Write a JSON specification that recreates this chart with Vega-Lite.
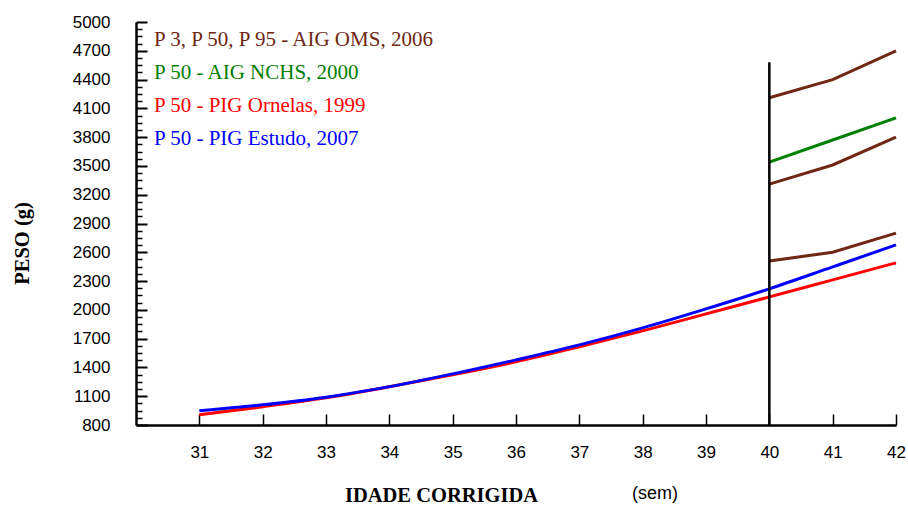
{
  "$schema": "https://vega.github.io/schema/vega-lite/v6.json",
  "width": 760,
  "height": 403,
  "autosize": {"type": "none"},
  "padding": {"left": 136, "top": 22, "right": 12, "bottom": 82},
  "background": "white",
  "config": {"view": {"stroke": null}},
  "title": {"text": "(sem)", "orient": "bottom", "anchor": "start", "frame": "group", "font": "Liberation Sans", "fontSize": 18, "fontWeight": "normal", "color": "black", "dx": 496, "dy": -21, "offset": 0},
  "data": {"values": [
    {"semana": 40, "peso": 4210, "fonte": "P 3, P 50, P 95 - AIG OMS, 2006", "serie": "P95 OMS"},
    {"semana": 41, "peso": 4400, "fonte": "P 3, P 50, P 95 - AIG OMS, 2006", "serie": "P95 OMS"},
    {"semana": 42, "peso": 4700, "fonte": "P 3, P 50, P 95 - AIG OMS, 2006", "serie": "P95 OMS"},
    {"semana": 40, "peso": 3310, "fonte": "P 3, P 50, P 95 - AIG OMS, 2006", "serie": "P50 OMS"},
    {"semana": 41, "peso": 3510, "fonte": "P 3, P 50, P 95 - AIG OMS, 2006", "serie": "P50 OMS"},
    {"semana": 42, "peso": 3800, "fonte": "P 3, P 50, P 95 - AIG OMS, 2006", "serie": "P50 OMS"},
    {"semana": 40, "peso": 2510, "fonte": "P 3, P 50, P 95 - AIG OMS, 2006", "serie": "P3 OMS"},
    {"semana": 41, "peso": 2600, "fonte": "P 3, P 50, P 95 - AIG OMS, 2006", "serie": "P3 OMS"},
    {"semana": 42, "peso": 2800, "fonte": "P 3, P 50, P 95 - AIG OMS, 2006", "serie": "P3 OMS"},
    {"semana": 40, "peso": 3540, "fonte": "P 50 - AIG NCHS, 2000", "serie": "NCHS"},
    {"semana": 41, "peso": 3770, "fonte": "P 50 - AIG NCHS, 2000", "serie": "NCHS"},
    {"semana": 42, "peso": 4000, "fonte": "P 50 - AIG NCHS, 2000", "serie": "NCHS"},
    {"semana": 31, "peso": 906, "fonte": "P 50 - PIG Ornelas, 1999", "serie": "Ornelas"},
    {"semana": 32, "peso": 990, "fonte": "P 50 - PIG Ornelas, 1999", "serie": "Ornelas"},
    {"semana": 33, "peso": 1083, "fonte": "P 50 - PIG Ornelas, 1999", "serie": "Ornelas"},
    {"semana": 34, "peso": 1198, "fonte": "P 50 - PIG Ornelas, 1999", "serie": "Ornelas"},
    {"semana": 35, "peso": 1323, "fonte": "P 50 - PIG Ornelas, 1999", "serie": "Ornelas"},
    {"semana": 36, "peso": 1458, "fonte": "P 50 - PIG Ornelas, 1999", "serie": "Ornelas"},
    {"semana": 37, "peso": 1615, "fonte": "P 50 - PIG Ornelas, 1999", "serie": "Ornelas"},
    {"semana": 38, "peso": 1781, "fonte": "P 50 - PIG Ornelas, 1999", "serie": "Ornelas"},
    {"semana": 39, "peso": 1958, "fonte": "P 50 - PIG Ornelas, 1999", "serie": "Ornelas"},
    {"semana": 40, "peso": 2135, "fonte": "P 50 - PIG Ornelas, 1999", "serie": "Ornelas"},
    {"semana": 41, "peso": 2313, "fonte": "P 50 - PIG Ornelas, 1999", "serie": "Ornelas"},
    {"semana": 42, "peso": 2490, "fonte": "P 50 - PIG Ornelas, 1999", "serie": "Ornelas"},
    {"semana": 31, "peso": 948, "fonte": "P 50 - PIG Estudo, 2007", "serie": "Estudo"},
    {"semana": 32, "peso": 1010, "fonte": "P 50 - PIG Estudo, 2007", "serie": "Estudo"},
    {"semana": 33, "peso": 1090, "fonte": "P 50 - PIG Estudo, 2007", "serie": "Estudo"},
    {"semana": 34, "peso": 1200, "fonte": "P 50 - PIG Estudo, 2007", "serie": "Estudo"},
    {"semana": 35, "peso": 1333, "fonte": "P 50 - PIG Estudo, 2007", "serie": "Estudo"},
    {"semana": 36, "peso": 1479, "fonte": "P 50 - PIG Estudo, 2007", "serie": "Estudo"},
    {"semana": 37, "peso": 1635, "fonte": "P 50 - PIG Estudo, 2007", "serie": "Estudo"},
    {"semana": 38, "peso": 1812, "fonte": "P 50 - PIG Estudo, 2007", "serie": "Estudo"},
    {"semana": 39, "peso": 2010, "fonte": "P 50 - PIG Estudo, 2007", "serie": "Estudo"},
    {"semana": 40, "peso": 2219, "fonte": "P 50 - PIG Estudo, 2007", "serie": "Estudo"},
    {"semana": 41, "peso": 2448, "fonte": "P 50 - PIG Estudo, 2007", "serie": "Estudo"},
    {"semana": 42, "peso": 2677, "fonte": "P 50 - PIG Estudo, 2007", "serie": "Estudo"}
  ]},
  "encoding": {
    "x": {
      "field": "semana", "type": "quantitative",
      "scale": {"domain": [30, 42], "nice": false, "zero": false},
      "axis": {
        "title": "IDADE CORRIGIDA",
        "titleFont": "Liberation Serif", "titleFontSize": 20.5, "titleFontWeight": "bold", "titleColor": "black",
        "titleX": 305, "titleY": 70, "titleAlign": "center", "titleBaseline": "middle", "titleAnchor": null,
        "values": [31, 32, 33, 34, 35, 36, 37, 38, 39, 40, 41, 42],
        "format": "d",
        "grid": false,
        "domainColor": "black", "domainWidth": 2.5,
        "tickColor": "black", "tickWidth": 1.5, "tickSize": -11,
        "labelFont": "Liberation Sans", "labelFontSize": 17, "labelColor": "black",
        "labelPadding": 30, "labelOverlap": false, "labelFlush": false
      }
    }
  },
  "layer": [
    {
      "transform": [{"filter": "datum.serie === 'P95 OMS' || datum.serie === 'P50 OMS' || datum.serie === 'P3 OMS' || datum.serie === 'NCHS'"}],
      "mark": {"type": "line", "strokeWidth": 3, "clip": false},
      "encoding": {
        "y": {
          "field": "peso", "type": "quantitative",
          "scale": {"domain": [800, 5000], "nice": false, "zero": false},
          "axis": {
            "orient": "left",
            "title": "PESO (g)",
            "titleFont": "Liberation Serif", "titleFontSize": 20.5, "titleFontWeight": "bold", "titleColor": "black",
            "titleX": -114, "titleY": 221, "titleAlign": "center", "titleBaseline": "middle", "titleAnchor": null, "titleAngle": -90,
            "values": [800, 1100, 1400, 1700, 2000, 2300, 2600, 2900, 3200, 3500, 3800, 4100, 4400, 4700, 5000],
            "format": "d",
            "grid": false,
            "ticks": false,
            "domainColor": "black", "domainWidth": 2.5,
            "labelFont": "Liberation Sans", "labelFontSize": 17, "labelColor": "black",
            "labelPadding": 26, "labelOverlap": false, "labelFlush": false
          }
        },
        "color": {
          "field": "fonte", "type": "nominal",
          "scale": {
            "domain": ["P 3, P 50, P 95 - AIG OMS, 2006", "P 50 - AIG NCHS, 2000", "P 50 - PIG Ornelas, 1999", "P 50 - PIG Estudo, 2007"],
            "range": ["#6E2814", "#008000", "#FF0000", "#0000FF"]
          },
          "legend": {
            "orient": "none", "legendX": -3, "legendY": 7.5,
            "title": null,
            "symbolSize": 0, "symbolStrokeWidth": 0, "symbolOpacity": 0, "symbolType": "circle",
            "labelOffset": 0, "padding": 0,
            "labelFont": "Liberation Serif", "labelFontSize": 21, "labelLimit": 600,
            "rowPadding": 11,
            "encode": {"labels": {"update": {"fill": {"scale": "color", "field": "value"}}}}
          }
        },
        "detail": {"field": "serie", "type": "nominal"},
        "order": {"field": "semana", "type": "quantitative"}
      }
    },
    {
      "transform": [{"filter": "datum.serie === 'Ornelas' || datum.serie === 'Estudo'"}],
      "mark": {"type": "line", "strokeWidth": 3, "interpolate": "monotone", "clip": false},
      "encoding": {
        "y": {
          "field": "peso", "type": "quantitative",
          "axis": {
            "orient": "left",
            "title": null,
            "values": [800, 1100, 1400, 1700, 2000, 2300, 2600, 2900, 3200, 3500, 3800, 4100, 4400, 4700, 5000],
            "labels": false,
            "domain": false,
            "grid": false,
            "ticks": true,
            "tickColor": "black", "tickWidth": 2, "tickSize": -11
          }
        },
        "color": {"field": "fonte", "type": "nominal"},
        "detail": {"field": "serie", "type": "nominal"},
        "order": {"field": "semana", "type": "quantitative"}
      }
    },
    {
      "data": {"values": [{"semana": 40, "inicio": 800, "fim": 4580}]},
      "mark": {"type": "rule", "color": "black", "strokeWidth": 2.5},
      "encoding": {
        "y": {
          "field": "inicio", "type": "quantitative",
          "axis": {
            "orient": "left",
            "title": null,
            "values": [875, 950, 1025, 1175, 1250, 1325, 1475, 1550, 1625, 1775, 1850, 1925, 2075, 2150, 2225, 2375, 2450, 2525, 2675, 2750, 2825, 2975, 3050, 3125, 3275, 3350, 3425, 3575, 3650, 3725, 3875, 3950, 4025, 4175, 4250, 4325, 4475, 4550, 4625, 4775, 4850, 4925],
            "labels": false,
            "domain": false,
            "grid": false,
            "ticks": true,
            "tickColor": "black", "tickWidth": 1.5, "tickSize": -6
          }
        },
        "y2": {"field": "fim"}
      }
    }
  ],
  "resolve": {"axis": {"y": "independent"}}
}
